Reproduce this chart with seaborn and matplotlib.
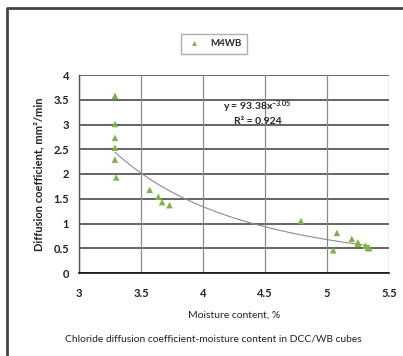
import numpy as np
import pandas as pd
import matplotlib
matplotlib.use("Agg")
import matplotlib.pyplot as plt
import seaborn as sns
from matplotlib.lines import Line2D

# ---- data ----
moisture = [3.29, 3.29, 3.29, 3.29, 3.29, 3.30, 3.57, 3.64, 3.67, 3.73,
            4.79, 5.08, 5.05, 5.20, 5.25, 5.25, 5.31, 5.33, 5.34]
diffusion = [3.58, 3.01, 2.73, 2.53, 2.29, 1.93, 1.68, 1.54, 1.43, 1.37,
             1.05, 0.81, 0.46, 0.69, 0.62, 0.59, 0.55, 0.51, 0.50]
series_name = "M4WB"
x_ticks = [3, 3.5, 4, 4.5, 5, 5.5]
y_ticks = [0, 0.5, 1, 1.5, 2, 2.5, 3, 3.5, 4]
eq_text = "y = 93.38x$^{-3.05}$"
r2_text = "R² = 0.924"
x_label = "Moisture content, %"
y_label = "Diffusion coefficient, mm²/min"
caption = "Chloride diffusion coefficient-moisture content in DCC/WB cubes"

df = pd.DataFrame({"moisture": moisture, "diffusion": diffusion, "series": series_name})

sns.set_style("white")
plt.rcParams["font.family"] = ["Lato", "DejaVu Sans"]
plt.rcParams["mathtext.default"] = "regular"

W, H = 403, 356
fig = plt.figure(figsize=(W / 100, H / 100), dpi=100)
ax = fig.add_axes([79 / W, 1 - 273 / H, 310 / W, 198 / H])

sns.scatterplot(data=df, x="moisture", y="diffusion", hue="series",
                palette=["#7db443"], marker="^", s=22, edgecolor="none",
                ax=ax, zorder=3)

# power trend line fitted from the data
b, lna = np.polyfit(np.log(df["moisture"]), np.log(df["diffusion"]), 1)
xs = np.linspace(min(moisture), max(moisture), 200)
ax.plot(xs, np.exp(lna) * xs ** b, color="#8c8c8c", lw=0.8, zorder=2)

ax.set_xlim(3, 5.5)
ax.set_ylim(0, 4)
ax.set_xticks(x_ticks)
ax.set_yticks(y_ticks)
ax.set_xticklabels([f"{t:g}" for t in x_ticks], fontsize=8, fontweight="bold", color="#222222")
ax.set_yticklabels([f"{t:g}" for t in y_ticks], fontsize=8, fontweight="bold", color="#222222")
ax.tick_params(axis="y", length=0, pad=7)
ax.tick_params(axis="x", length=0, pad=11)

for yv in y_ticks:
    ax.axhline(yv, color="#3a3a3a", lw=1.1, zorder=1)
for xv in x_ticks:
    ax.axvline(xv, color="#8a8a8a", lw=0.9, zorder=1)

for side in ["top", "right"]:
    ax.spines[side].set_visible(False)
ax.spines["left"].set_color("#555555")
ax.spines["left"].set_linewidth(1.0)
ax.spines["bottom"].set_color("#111111")
ax.spines["bottom"].set_linewidth(1.2)

ax.set_xlabel(x_label, fontsize=7.5, color="#222222", labelpad=8)
ax.set_ylabel(y_label, fontsize=8, fontweight="bold", color="#222222", labelpad=7)

ax.text(4.44, 3.36, eq_text, ha="center", va="center", fontsize=7.5, fontweight="bold", color="#222222")
ax.text(4.44, 3.06, r2_text, ha="center", va="center", fontsize=7.5, fontweight="bold", color="#222222")

handles, labels = ax.get_legend_handles_labels()
ax.legend(handles, labels, loc="center", bbox_to_anchor=(214 / W, 1 - 44 / H),
          bbox_transform=fig.transFigure, frameon=True, fancybox=False,
          edgecolor="#999999", prop={"weight": "bold", "size": 7},
          handletextpad=0.8, borderpad=0.55, markerscale=0.75, handlelength=1.6)

fig.text(213 / W, 1 - 339 / H, caption, ha="center", va="center", fontsize=7.4, color="#222222")

# page frame lines
fig.add_artist(Line2D([7 / W, 7 / W, 1.0], [0, 1 - 8 / H, 1 - 8 / H],
                      transform=fig.transFigure, color="#444444", lw=2))

fig.savefig("out.png", dpi=100, facecolor="white")
